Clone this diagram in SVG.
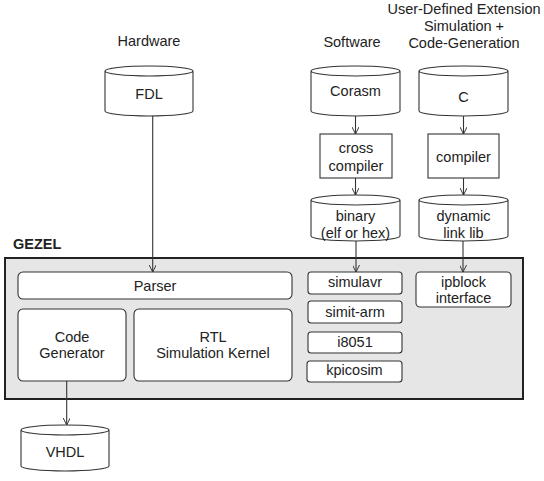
<svg xmlns="http://www.w3.org/2000/svg" width="544" height="481" viewBox="0 0 544 481">
<defs>
<style>
text{font-family:"Liberation Sans",Arial,sans-serif;font-size:14.5px;fill:#222;text-anchor:middle}
.b{font-weight:bold;text-anchor:start}
.cyl{fill:#fff;stroke:#333;stroke-width:1.1}
.box{fill:#fff;stroke:#333;stroke-width:1.1}
.con{fill:none;stroke:#333;stroke-width:1.1}
</style>
<marker id="arr" viewBox="0 0 10 10" refX="10" refY="5" markerWidth="7" markerHeight="7" markerUnits="userSpaceOnUse" orient="auto">
<path d="M0,0 L10,5 L0,10" fill="none" stroke="#333" stroke-width="1.4"/>
</marker>
</defs>
<rect width="544" height="481" fill="#fff"/>

<text x="149" y="46">Hardware</text>
<text x="352" y="47">Software</text>
<text x="464" y="14">User-Defined Extension</text>
<text x="464" y="31">Simulation +</text>
<text x="464" y="48">Code-Generation</text>

<g id="gezel">
<rect x="5" y="258" width="518" height="141" fill="#e6e6e6" stroke="#222" stroke-width="2"/>
<text class="b" x="13" y="249">GEZEL</text>
</g>

<g id="fdl">
<path class="cyl" d="M105,71 A44,5 0 0 1 193,71 A44,5 0 0 1 105,71 Z M105,71 L105,111 A44,5 0 0 0 193,111 L193,71"/>
<text x="149" y="99">FDL</text>
</g>
<g id="corasm">
<path class="cyl" d="M311,71 A44.5,5 0 0 1 400,71 A44.5,5 0 0 1 311,71 Z M311,71 L311,111 A44.5,5 0 0 0 400,111 L400,71"/>
<text x="355.5" y="96">Corasm</text>
</g>
<g id="c">
<path class="cyl" d="M419,71 A44.5,5 0 0 1 508,71 A44.5,5 0 0 1 419,71 Z M419,71 L419,111 A44.5,5 0 0 0 508,111 L508,71"/>
<text x="463.5" y="102">C</text>
</g>
<g id="crosscompiler">
<rect class="box" x="320" y="134" width="72" height="44"/>
<text x="356" y="153">cross</text>
<text x="356" y="171">compiler</text>
</g>
<g id="compiler">
<rect class="box" x="428" y="134" width="71" height="44"/>
<text x="463.5" y="162">compiler</text>
</g>
<g id="binary">
<path class="cyl" d="M311,200 A44.5,5 0 0 1 400,200 A44.5,5 0 0 1 311,200 Z M311,200 L311,236 A44.5,5 0 0 0 400,236 L400,200"/>
<text x="355.5" y="221">binary</text>
<text x="355.5" y="238">(elf or hex)</text>
</g>
<g id="dynlib">
<path class="cyl" d="M419,200 A44.5,5 0 0 1 508,200 A44.5,5 0 0 1 419,200 Z M419,200 L419,236 A44.5,5 0 0 0 508,236 L508,200"/>
<text x="463.5" y="221">dynamic</text>
<text x="463.5" y="238">link lib</text>
</g>

<g id="parser">
<rect class="box" x="18" y="272" width="274" height="27" rx="5"/>
<text x="155" y="291">Parser</text>
</g>
<g id="codegen">
<rect class="box" x="18" y="309" width="108" height="72" rx="5"/>
<text x="72" y="342">Code</text>
<text x="72" y="358">Generator</text>
</g>
<g id="rtl">
<rect class="box" x="134" y="309" width="158" height="72" rx="5"/>
<text x="213" y="342">RTL</text>
<text x="213" y="358">Simulation Kernel</text>
</g>
<g id="simulavr">
<rect class="box" x="308" y="272" width="94" height="22" rx="3"/>
<text x="355" y="287">simulavr</text>
</g>
<g id="simitarm">
<rect class="box" x="308" y="301" width="94" height="22" rx="3"/>
<text x="355" y="317">simit-arm</text>
</g>
<g id="i8051">
<rect class="box" x="308" y="332" width="94" height="21" rx="3"/>
<text x="355" y="347">i8051</text>
</g>
<g id="kpicosim">
<rect class="box" x="307" y="361" width="95" height="21" rx="3"/>
<text x="354.5" y="375">kpicosim</text>
</g>
<g id="ipblock">
<rect class="box" x="416" y="272" width="95" height="35" rx="4"/>
<text x="463.5" y="287">ipblock</text>
<text x="463.5" y="303">interface</text>
</g>
<g id="vhdl">
<path class="cyl" d="M21,430 A44,5 0 0 1 109,430 A44,5 0 0 1 21,430 Z M21,430 L21,466 A44,5 0 0 0 109,466 L109,430"/>
<text x="65" y="457">VHDL</text>
</g>

<g id="connectors" class="con">
<line x1="152.7" y1="116" x2="152.7" y2="272" marker-end="url(#arr)"/>
<line x1="355.5" y1="116" x2="355.5" y2="134" marker-end="url(#arr)"/>
<line x1="463.5" y1="116" x2="463.5" y2="134" marker-end="url(#arr)"/>
<line x1="355.5" y1="178" x2="355.5" y2="195" marker-end="url(#arr)"/>
<line x1="463.5" y1="178" x2="463.5" y2="195" marker-end="url(#arr)"/>
<line x1="356" y1="241" x2="356" y2="272" marker-end="url(#arr)"/>
<line x1="463" y1="241" x2="463" y2="272" marker-end="url(#arr)"/>
<line x1="66.7" y1="381" x2="66.7" y2="425" marker-end="url(#arr)"/>
</g>
</svg>
